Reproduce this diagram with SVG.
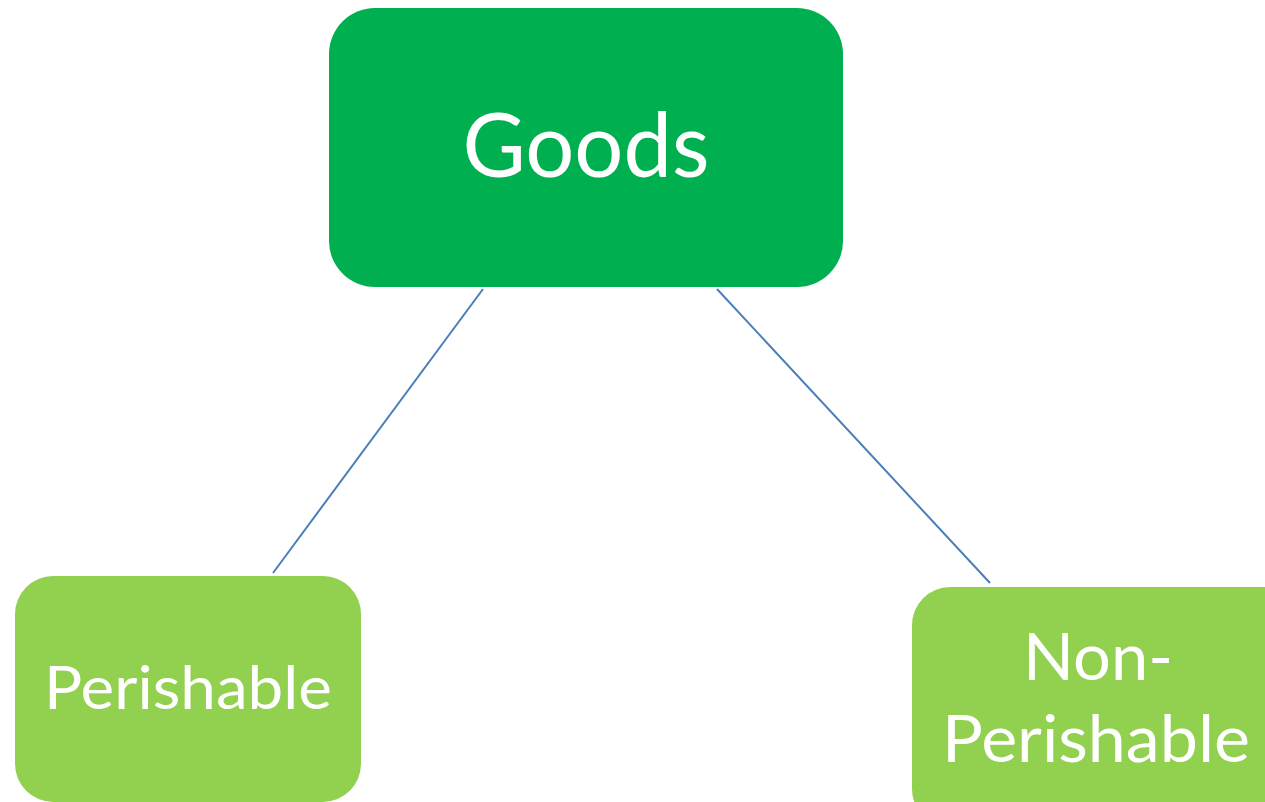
<svg xmlns="http://www.w3.org/2000/svg" width="1265" height="802" viewBox="0 0 1265 802">
<style>
.lbl{font-family:Lato,"Open Sans","Liberation Sans",sans-serif;fill:#fff;text-anchor:middle}
.conn{stroke:#4A7EBB;stroke-width:2;fill:none}
</style>
<rect width="1265" height="802" fill="#fff"/>
<g id="connectors">
<line class="conn" x1="483" y1="289" x2="273" y2="573"/>
<line class="conn" x1="717" y1="289" x2="990" y2="583"/>
</g>
<g id="goods">
<rect x="329" y="8" width="514" height="279" rx="46" ry="46" fill="#00B050"/>
<text class="lbl" x="586" y="177" font-size="89" textLength="247" lengthAdjust="spacingAndGlyphs">Goods</text>
</g>
<g id="perishable">
<rect x="15" y="576" width="346" height="226" rx="38" ry="38" fill="#92D050"/>
<text class="lbl" x="188" y="709" font-size="60" textLength="288" lengthAdjust="spacingAndGlyphs">Perishable</text>
</g>
<g id="non-perishable">
<rect x="912" y="587" width="400" height="240" rx="38" ry="38" fill="#92D050"/>
<text class="lbl" x="1098" y="680" font-size="66" textLength="150" lengthAdjust="spacingAndGlyphs">Non-</text>
<text class="lbl" x="1096" y="762" font-size="66" textLength="308" lengthAdjust="spacingAndGlyphs">Perishable</text>
</g>
</svg>
